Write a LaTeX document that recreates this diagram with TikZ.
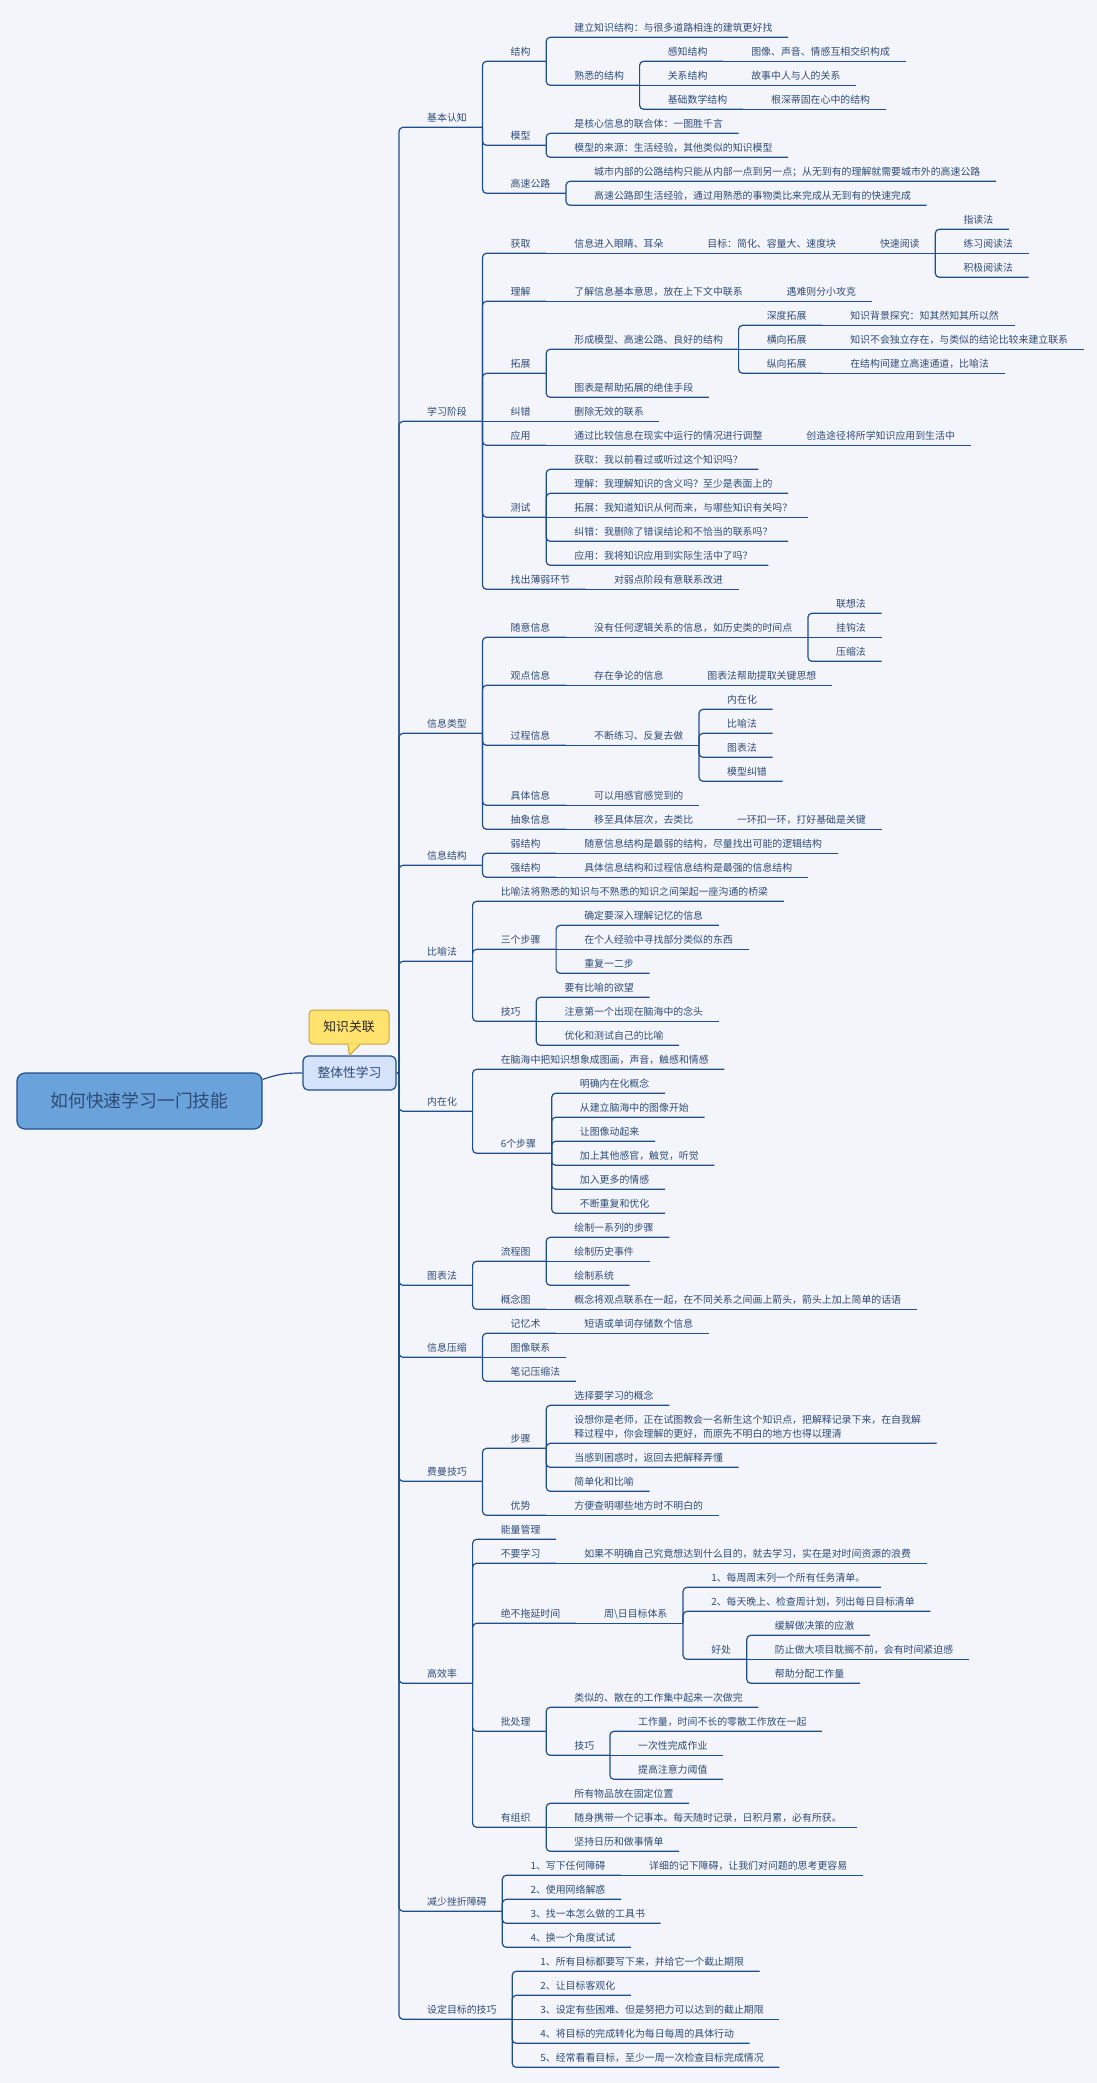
\documentclass[tikz,border=0pt]{standalone}
\usepackage{fontspec}
\setmainfont{Noto Sans CJK SC}
\usetikzlibrary{calc}
\definecolor{bgcol}{HTML}{F3F5FB}
\definecolor{linecol}{HTML}{1F4E8A}
\definecolor{txtcol}{HTML}{2F4B75}
\definecolor{rootfill}{HTML}{6AA3DB}
\definecolor{mainfill}{HTML}{D4E2FA}
\definecolor{tagfill}{HTML}{FFE36E}
\definecolor{tagline}{HTML}{C9A23A}
\begin{document}
\begin{tikzpicture}[x=1pt, y=-1pt,
			br/.style={draw=linecol, line width=1.2pt, rounded corners=4pt},
			topic/.style={font=\fontsize{9.9}{12}\selectfont, text=txtcol, inner sep=0pt, anchor=base west},
			rootbox/.style={draw=linecol, line width=1.2pt, fill=rootfill, rounded corners=8pt, minimum width=245pt, minimum height=56pt, text=txtcol, font=\fontsize{17.8}{20}\selectfont},
			mainbox/.style={draw=linecol, line width=1.2pt, fill=mainfill, rounded corners=5pt, minimum width=93pt, minimum height=34pt, text=txtcol, font=\fontsize{12.8}{15}\selectfont},
			tagbox/.style={draw=tagline, line width=1pt, fill=tagfill, rounded corners=4pt, minimum width=80pt, minimum height=34pt, text=black!85, font=\fontsize{12.8}{15}\selectfont}]
			\fill[bgcol] (0,0) rectangle (1097,2083);
			
			% central topics
			\node[rootbox] (root) at (139.5,1101) {如何快速学习一门技能};
			\node[mainbox] (main) at (349.5,1073) {整体性学习};
			\node[tagbox] (tag) at (349,1027) {知识关联};
			\fill[tagfill] ($(tag.south)+(-1.2,-0.8)$) -- (main.north) -- ($(tag.south)+(11.2,-0.8)$) -- cycle;
			\draw[draw=tagline, line width=1pt] ($(tag.south)+(-1,0)$) -- (main.north) -- ($(tag.south)+(11,0)$);
			\draw[br] ($(root.north east)+(0,7)$) .. controls +(18,-6) and +(-16,0) .. (main.west);
			
			\coordinate (trunk-r) at (399,1073);
			\def\nytrunk{1073}
			\draw[br] (main.east) -- (trunk-r);
			
			% branches: name / parent / y of underline / text
			\foreach \n/\p/\y/\t in {
				a/trunk/127.3/基本认知,
				a1/a/61.3/结构,
				a11/a1/37.3/建立知识结构：与很多道路相连的建筑更好找,
				a12/a1/85.3/熟悉的结构,
				a121/a12/61.3/感知结构,
				a1211/a121/61.3/图像、声音、情感互相交织构成,
				a122/a12/85.3/关系结构,
				a1221/a122/85.3/故事中人与人的关系,
				a123/a12/109.3/基础数学结构,
				a1231/a123/109.3/根深蒂固在心中的结构,
				a2/a/145.3/模型,
				a21/a2/133.3/是核心信息的联合体：一图胜千言,
				a22/a2/157.3/模型的来源：生活经验，其他类似的知识模型,
				a3/a/193.3/高速公路,
				a31/a3/181.3/城市内部的公路结构只能从内部一点到另一点；从无到有的理解就需要城市外的高速公路,
				a32/a3/205.3/高速公路即生活经验，通过用熟悉的事物类比来完成从无到有的快速完成,
				b/trunk/421.3/学习阶段,
				b1/b/253.3/获取,
				b11/b1/253.3/信息进入眼睛、耳朵,
				b111/b11/253.3/目标：简化、容量大、速度块,
				b1111/b111/253.3/快速阅读,
				b11111/b1111/229.3/指读法,
				b11112/b1111/253.3/练习阅读法,
				b11113/b1111/277.3/积极阅读法,
				b2/b/301.3/理解,
				b21/b2/301.3/了解信息基本意思，放在上下文中联系,
				b211/b21/301.3/遇难则分小攻克,
				b3/b/373.3/拓展,
				b31/b3/349.3/形成模型、高速公路、良好的结构,
				b311/b31/325.3/深度拓展,
				b3111/b311/325.3/知识背景探究：知其然知其所以然,
				b312/b31/349.3/横向拓展,
				b3121/b312/349.3/知识不会独立存在，与类似的结论比较来建立联系,
				b313/b31/373.3/纵向拓展,
				b3131/b313/373.3/在结构间建立高速通道，比喻法,
				b32/b3/397.3/图表是帮助拓展的绝佳手段,
				b4/b/421.3/纠错,
				b41/b4/421.3/删除无效的联系,
				b5/b/445.3/应用,
				b51/b5/445.3/通过比较信息在现实中运行的情况进行调整,
				b511/b51/445.3/创造途径将所学知识应用到生活中,
				b6/b/517.3/测试,
				b61/b6/469.3/获取：我以前看过或听过这个知识吗？,
				b62/b6/493.3/理解：我理解知识的含义吗？至少是表面上的,
				b63/b6/517.3/拓展：我知道知识从何而来，与哪些知识有关吗？,
				b64/b6/541.3/纠错：我删除了错误结论和不恰当的联系吗？,
				b65/b6/565.3/应用：我将知识应用到实际生活中了吗？,
				b7/b/589.3/找出薄弱环节,
				b71/b7/589.3/对弱点阶段有意联系改进,
				c/trunk/733.3/信息类型,
				c1/c/637.3/随意信息,
				c11/c1/637.3/没有任何逻辑关系的信息，如历史类的时间点,
				c111/c11/613.3/联想法,
				c112/c11/637.3/挂钩法,
				c113/c11/661.3/压缩法,
				c2/c/685.3/观点信息,
				c21/c2/685.3/存在争论的信息,
				c211/c21/685.3/图表法帮助提取关键思想,
				c3/c/745.3/过程信息,
				c31/c3/745.3/不断练习、反复去做,
				c311/c31/709.3/内在化,
				c312/c31/733.3/比喻法,
				c313/c31/757.3/图表法,
				c314/c31/781.3/模型纠错,
				c4/c/805.3/具体信息,
				c41/c4/805.3/可以用感官感觉到的,
				c5/c/829.3/抽象信息,
				c51/c5/829.3/移至具体层次，去类比,
				c511/c51/829.3/一环扣一环，打好基础是关键,
				d/trunk/865.3/信息结构,
				d1/d/853.3/弱结构,
				d11/d1/853.3/随意信息结构是最弱的结构，尽量找出可能的逻辑结构,
				d2/d/877.3/强结构,
				d21/d2/877.3/具体信息结构和过程信息结构是最强的信息结构,
				e/trunk/961.3/比喻法,
				e1/e/901.3/比喻法将熟悉的知识与不熟悉的知识之间架起一座沟通的桥梁,
				e2/e/949.3/三个步骤,
				e21/e2/925.3/确定要深入理解记忆的信息,
				e22/e2/949.3/在个人经验中寻找部分类似的东西,
				e23/e2/973.3/重复一二步,
				e3/e/1021.3/技巧,
				e31/e3/997.3/要有比喻的欲望,
				e32/e3/1021.3/注意第一个出现在脑海中的念头,
				e33/e3/1045.3/优化和测试自己的比喻,
				f/trunk/1111.3/内在化,
				f1/f/1069.3/在脑海中把知识想象成图画，声音，触感和情感,
				f2/f/1153.3/6个步骤,
				f21/f2/1093.3/明确内在化概念,
				f22/f2/1117.3/从建立脑海中的图像开始,
				f23/f2/1141.3/让图像动起来,
				f24/f2/1165.3/加上其他感官，触觉，听觉,
				f25/f2/1189.3/加入更多的情感,
				f26/f2/1213.3/不断重复和优化,
				g/trunk/1285.3/图表法,
				g1/g/1261.3/流程图,
				g11/g1/1237.3/绘制一系列的步骤,
				g12/g1/1261.3/绘制历史事件,
				g13/g1/1285.3/绘制系统,
				g2/g/1309.3/概念图,
				g21/g2/1309.3/概念将观点联系在一起，在不同关系之间画上箭头，箭头上加上简单的话语,
				h/trunk/1357.3/信息压缩,
				h1/h/1333.3/记忆术,
				h11/h1/1333.3/短语或单词存储数个信息,
				h2/h/1357.3/图像联系,
				h3/h/1381.3/笔记压缩法,
				i/trunk/1481.3/费曼技巧,
				i1/i/1448.3/步骤,
				i11/i1/1405.3/选择要学习的概念,
				i12/i1/1443.3/{\begin{tabular}[b]{@{}l@{}}设想你是老师，正在试图教会一名新生这个知识点，把解释记录下来，在自我解\\[2.7pt]释过程中，你会理解的更好，而原先不明白的地方也得以理清\end{tabular}},
				i13/i1/1467.3/当感到困惑时，返回去把解释弄懂,
				i14/i1/1491.3/简单化和比喻,
				i2/i/1515.3/优势,
				i21/i2/1515.3/方便查明哪些地方时不明白的,
				j/trunk/1683.3/高效率,
				j1/j/1539.3/能量管理,
				j2/j/1563.3/不要学习,
				j21/j2/1563.3/如果不明确自己究竟想达到什么目的，就去学习，实在是对时间资源的浪费,
				j3/j/1623.3/绝不拖延时间,
				j31/j3/1623.3/周\textbackslash 日目标体系,
				j311/j31/1587.3/1、每周周末列一个所有任务清单。,
				j312/j31/1611.3/2、每天晚上、检查周计划，列出每日目标清单,
				j313/j31/1659.3/好处,
				j3131/j313/1635.3/缓解做决策的应激,
				j3132/j313/1659.3/防止做大项目耽搁不前，会有时间紧迫感,
				j3133/j313/1683.3/帮助分配工作量,
				j4/j/1731.3/批处理,
				j41/j4/1707.3/类似的、散在的工作集中起来一次做完,
				j42/j4/1755.3/技巧,
				j421/j42/1731.3/工作量，时间不长的零散工作放在一起,
				j422/j42/1755.3/一次性完成作业,
				j423/j42/1779.3/提高注意力阈值,
				j5/j/1827.3/有组织,
				j51/j5/1803.3/所有物品放在固定位置,
				j52/j5/1827.3/随身携带一个记事本。每天随时记录，日积月累，必有所获。,
				j53/j5/1851.3/坚持日历和做事情单,
				k/trunk/1911.3/减少挫折障碍,
				k1/k/1875.3/1、写下任何障碍,
				k11/k1/1875.3/详细的记下障碍，让我们对问题的思考更容易,
				k2/k/1899.3/2、使用网络解惑,
				k3/k/1923.3/3、找一本怎么做的工具书,
				k4/k/1947.3/4、换一个角度试试,
				l/trunk/2019.3/设定目标的技巧,
				l1/l/1971.3/1、所有目标都要写下来，并给它一个截止期限,
				l2/l/1995.3/2、让目标客观化,
				l3/l/2019.3/3、设定有些困难、但是努把力可以达到的截止期限,
				l4/l/2043.3/4、将目标的完成转化为每日每周的具体行动,
				l5/l/2067.3/5、经常看看目标，至少一周一次检查目标完成情况} {
				\node[topic] (\n) at ($(\p-r |- 0,\y)+(28,-5.5)$) {\t};
				\coordinate (\n-r) at ($(\n.east |- 0,\y)+(15.5,0)$);
				\pgfmathsetmacro\dy{abs(\y-\csname ny\p\endcsname)}
				\ifdim\dy pt<0.5pt
					\draw[br] (\p-r) -- (\n-r);
				\else
					\draw[br] (\p-r) |- (\n-r);
				\fi
				\expandafter\xdef\csname ny\n\endcsname{\y}
			};
		\end{tikzpicture}
\end{document}
